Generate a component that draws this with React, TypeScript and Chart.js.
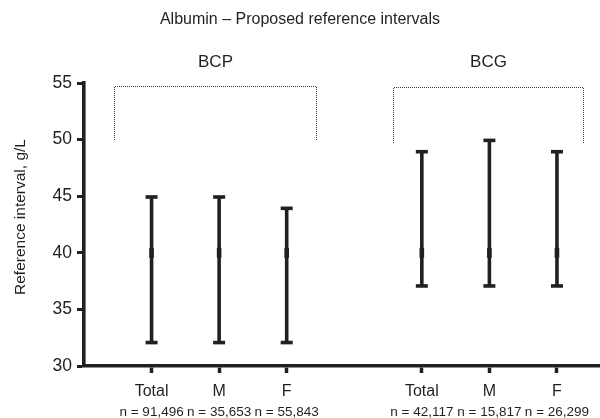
import React, { useEffect, useRef } from "react";
import { Chart, registerables } from "chart.js";

Chart.register(...registerables);

const TITLE = "Albumin \u2013 Proposed reference intervals";
const Y_TITLE = "Reference interval, g/L";
const groups = ["BCP", "BCG"];
const categories = ["Total", "M", "F", "Total", "M", "F"];
const nLabels = [
  "n = 91,496",
  "n = 35,653",
  "n = 55,843",
  "n = 42,117",
  "n = 15,817",
  "n = 26,299",
];
const lows = [32, 32, 32, 37, 37, 37];
const highs = [45, 45, 44, 49, 50, 49];
const means = [40, 40, 40, 40, 40, 40];
const yTicks = [30, 35, 40, 45, 50, 55];
// bracket extents (axis units)
const bracketLeft = [-0.56, 3.57];
const bracketRight = [2.44, 6.39];
const bracketTop = [54.76, 54.65];
const bracketBottom = [50, 49.7];

const INK = "#231f20";
const FONT = "'Liberation Sans', Arial, Helvetica, sans-serif";

// position of each category on the x axis (gap between the two groups)
const xPos = categories.map((_, i) => i + (i >= 3 ? 1 : 0));

const overlay = {
  id: "overlay",
  afterDatasetsDraw(chart: any) {
    const ctx = chart.ctx;
    const xs = chart.scales.x;
    const ys = chart.scales.y;
    ctx.save();
    // error bars
    ctx.strokeStyle = INK;
    ctx.fillStyle = INK;
    for (let i = 0; i < categories.length; i++) {
      const px = xs.getPixelForValue(xPos[i]);
      const pLo = ys.getPixelForValue(lows[i]);
      const pHi = ys.getPixelForValue(highs[i]);
      const pM = ys.getPixelForValue(means[i]);
      ctx.lineWidth = 3.6;
      ctx.beginPath();
      ctx.moveTo(px, pLo);
      ctx.lineTo(px, pHi);
      ctx.stroke();
      // caps
      ctx.fillRect(px - 6, pHi - 1, 12, 3.6);
      ctx.fillRect(px - 6, pLo - 2.6, 12, 3.6);
      // mean mark
      ctx.fillRect(px - 2.3, pM - 5, 4.6, 10);
    }
    // brackets
    ctx.strokeStyle = "#3a3a3a";
    ctx.lineWidth = 1;
    for (let g = 0; g < groups.length; g++) {
      const l = Math.round(xs.getPixelForValue(bracketLeft[g])) + 0.5;
      const r = Math.round(xs.getPixelForValue(bracketRight[g])) + 0.5;
      const t = Math.round(ys.getPixelForValue(bracketTop[g])) + 0.5;
      const b = Math.round(ys.getPixelForValue(bracketBottom[g]));
      ctx.setLineDash([1, 1]);
      ctx.beginPath();
      ctx.moveTo(l, b);
      ctx.lineTo(l, t);
      ctx.lineTo(r, t);
      ctx.lineTo(r, b);
      ctx.stroke();
      ctx.setLineDash([]);
      ctx.fillStyle = INK;
      ctx.font = `17px ${FONT}`;
      ctx.textAlign = "center";
      ctx.textBaseline = "middle";
      ctx.fillText(groups[g], (l + r) / 2, 62);
    }
    // n labels
    ctx.fillStyle = INK;
    ctx.font = `13.5px ${FONT}`;
    ctx.textAlign = "center";
    ctx.textBaseline = "middle";
    for (let i = 0; i < categories.length; i++) {
      ctx.fillText(nLabels[i], xs.getPixelForValue(xPos[i]), 412);
    }
    // title
    ctx.font = `16px ${FONT}`;
    ctx.fillText(TITLE, 300, 20);
    // y title
    ctx.font = `15.5px ${FONT}`;
    ctx.translate(21, 217);
    ctx.rotate(-Math.PI / 2);
    ctx.fillText(Y_TITLE, 0, 0);
    ctx.restore();
  },
};

export default function App() {
  const ref = useRef<HTMLCanvasElement>(null);
  useEffect(() => {
    const canvas = ref.current!;
    const chart = new Chart(canvas, {
      type: "scatter",
      data: {
        datasets: [
          {
            data: xPos.map((x, i) => ({ x, y: means[i] })),
            pointRadius: 0,
            showLine: false,
          },
        ],
      },
      options: {
        responsive: false,
        animation: false,
        devicePixelRatio: 1,
        layout: { padding: { top: 83, left: 0, right: 0, bottom: 0 } },
        plugins: {
          legend: { display: false },
          tooltip: { enabled: false },
          title: { display: false },
        },
        scales: {
          x: {
            type: "linear",
            min: -1,
            max: 6.637,
            offset: false,
            afterFit(scale: any) {
              scale.height = 52;
            },
            afterBuildTicks(scale: any) {
              scale.ticks = xPos.map((v) => ({ value: v }));
            },
            ticks: {
              autoSkip: false,
              maxRotation: 0,
              padding: 9,
              color: INK,
              font: { family: FONT, size: 16 },
              callback: (v: any) => {
                const i = xPos.indexOf(Number(v));
                return i >= 0 ? categories[i] : "";
              },
            },
            grid: {
              display: true,
              drawOnChartArea: false,
              drawTicks: true,
              tickLength: 7,
              tickWidth: 3.5,
              tickColor: INK,
            },
            border: { display: true, width: 3.6, color: INK },
          },
          y: {
            type: "linear",
            min: 30,
            max: 55,
            afterFit(scale: any) {
              scale.width = 84;
            },
            afterBuildTicks(scale: any) {
              scale.ticks = yTicks.map((v) => ({ value: v }));
            },
            ticks: {
              padding: 5,
              color: INK,
              font: { family: FONT, size: 17.5 },
            },
            grid: {
              display: true,
              drawOnChartArea: false,
              drawTicks: true,
              tickLength: 7,
              tickWidth: 3,
              tickColor: INK,
            },
            border: { display: true, width: 3.6, color: INK },
          },
        },
      },
      plugins: [overlay],
    });
    return () => chart.destroy();
  }, []);
  return (
    <div style={{ position: "absolute", left: 0, top: 0, width: 600, height: 418, background: "#fff" }}>
      <canvas ref={ref} width={600} height={418} />
    </div>
  );
}
